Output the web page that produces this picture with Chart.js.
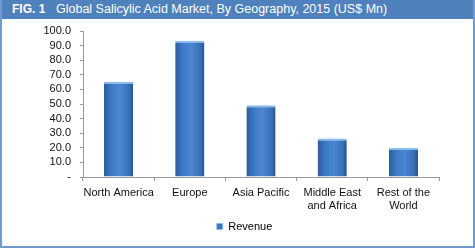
<!DOCTYPE html>
<html>
<head>
<meta charset="utf-8">
<script src="https://cdn.jsdelivr.net/npm/chart.js@4"></script>
<style>
  body { margin: 0; background: #fff; }
  #frame { position: relative; width: 471px; height: 246px; border: 2px solid #6f9bd1; border-top: none; overflow: hidden; }
  #header { height: 19px; background: #4f81bd; color: #fff; font-family: "Liberation Sans", Arial, sans-serif; font-size: 12.5px; line-height: 19px; white-space: nowrap; }
  #header b { display: inline-block; margin-left: 10px; width: 44px; font-size: 12px; }
  #wrap { position: absolute; left: 0; top: 19px; width: 471px; height: 227px; }
</style>
</head>
<body>
<div id="frame">
  <div id="header"><b>FIG. 1</b>Global Salicylic Acid Market, By Geography, 2015 (US$ Mn)</div>
  <div id="wrap"><canvas id="chart" width="471" height="227"></canvas></div>
</div>
<script>
const regions = ["North America", "Europe", "Asia Pacific", ["Middle East", "and Africa"], ["Rest of the", "World"]];
const revenue = [65.2, 93.3, 49.2, 26.4, 19.9];
const seriesName = "Revenue";
const yTicks = { min: 0, max: 100, step: 10 };

const font = { family: "'Liberation Sans', Arial, sans-serif", size: 11 };

function barFill(ctx) {
  const chart = ctx.chart;
  if (!chart.chartArea || ctx.dataIndex === undefined) return "#3f73b8";
  const x = chart.scales.x.getPixelForValue(ctx.dataIndex);
  const g = chart.ctx.createLinearGradient(x - 15, 0, x + 15, 0);
  g.addColorStop(0, "#2a5b98");
  g.addColorStop(0.25, "#3d78c4");
  g.addColorStop(0.55, "#4a87d3");
  g.addColorStop(0.85, "#3a70b5");
  g.addColorStop(1, "#24508a");
  return g;
}

// nudge the legend right so it sits under the middle like the original
const legendShift = {
  id: "legendShift",
  afterLayout(chart) {
    chart.legend.left += 24;
    chart.legend.right += 24;
  }
};

new Chart(document.getElementById("chart"), {
  type: "bar",
  data: {
    labels: regions,
    datasets: [{
      label: seriesName,
      data: revenue,
      backgroundColor: barFill,
      borderColor: "#8cbcef",
      borderWidth: { top: 2, left: 0, right: 0, bottom: 0 },
      borderSkipped: false,
      barPercentage: 0.41,
      categoryPercentage: 1
    }]
  },
  plugins: [legendShift],
  options: {
    responsive: false,
    animation: false,
    devicePixelRatio: 1,
    layout: { padding: { top: 12, right: 34, left: 0, bottom: 4 } },
    plugins: {
      tooltip: { enabled: false },
      legend: {
        position: "bottom",
        labels: {
          font: { family: font.family, size: 11 },
          color: "#222",
          boxWidth: 6,
          boxHeight: 6,
          padding: 10,
          generateLabels: function (chart) {
            return [{ text: seriesName, fillStyle: "#3f73b8", strokeStyle: "#8cbcef", lineWidth: 1, datasetIndex: 0 }];
          }
        }
      }
    },
    scales: {
      x: {
        grid: { display: true, drawOnChartArea: false, drawTicks: true, tickLength: 4, color: "#999", offset: true },
        border: { color: "#999" },
        ticks: { font: font, color: "#111", maxRotation: 0, autoSkip: false, padding: 5 },
        afterFit: function (scale) { scale.height = 34; }
      },
      y: {
        min: yTicks.min,
        max: yTicks.max,
        grid: { display: true, drawOnChartArea: false, drawTicks: true, tickLength: 3, color: "#999" },
        border: { color: "#999" },
        ticks: {
          stepSize: yTicks.step,
          autoSkip: false,
          font: font,
          color: "#111",
          padding: 9,
          callback: function (v) { return v === 0 ? "-" : v.toFixed(1); }
        },
        afterFit: function (scale) {
          scale.width = 81;
          scale.paddingTop = 8;
          scale.paddingBottom = 8;
        }
      }
    }
  }
});
</script>
</body>
</html>
